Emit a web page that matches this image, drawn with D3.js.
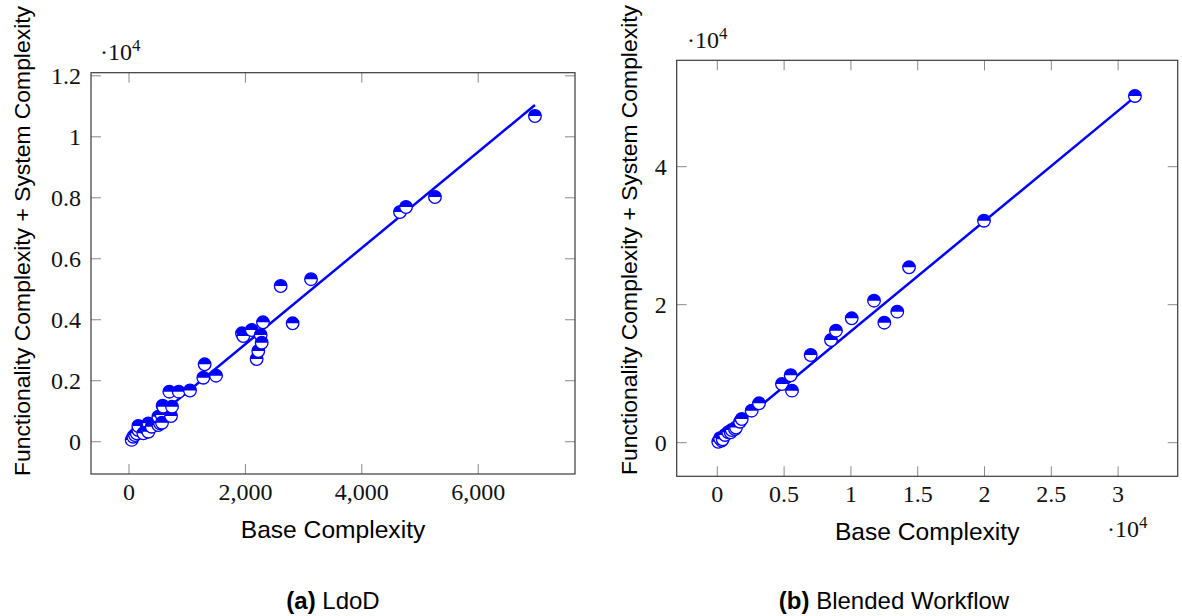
<!DOCTYPE html>
<html><head><meta charset="utf-8">
<script src="https://cdn.jsdelivr.net/npm/d3@7"></script>
<style>
html,body{margin:0;padding:0;background:#fff;}
svg{display:block;}
</style></head>
<body>
<svg id="chart" width="1182" height="616"></svg>
<script>
// ---------- data ----------
// (a) LdoD : Base Complexity vs Functionality + System Complexity
const ldodBase = [46,74,103,132,160,160,246,303,315,332,332,390,504,533,504,562,567,578,589,722,739,693,854,1048,1277,1300,1495,1941,1964,2108,2193,2221,2262,2280,2302,2606,2812,3127,4656,4759,5257,6975];
const ldodFunc = [60,164,219,275,384,515,275,440,384,603,328,492,548,603,820,876,623,1181,1148,843,1148,1640,1640,1680,2099,2539,2165,3555,3467,3664,2712,2975,3500,3247,3916,5107,3884,5330,7534,7698,8026,10683];
const ldodFitX = [46,6975];
const ldodFitY = [127,11041];
const ldodXTicks = [0,2000,4000,6000];
const ldodYTicks = [0,2000,4000,6000,8000,10000,12000];

// (b) Blended Workflow
const bwBase = [70,330,200,400,580,820,1000,1080,1320,1400,1700,1830,2570,3120,4840,5490,5590,6990,8510,8880,10060,11730,12500,13470,14350,19960,31260];
const bwFunc = [140,290,640,500,1120,1510,1500,1840,1990,2200,3040,3430,4640,5710,8510,9770,7540,12710,14880,16230,18030,20580,17390,18990,25420,32170,50250];
const bwFitX = [70,31260];
const bwFitY = [282,50123];
const bwXTicks = [0,5000,10000,15000,20000,25000,30000];
const bwYTicks = [0,20000,40000];

const captions = [{tag:"(a)", text:" LdoD"},{tag:"(b)", text:" Blended Workflow"}];
const xTitle = "Base Complexity";
const yTitle = "Functionality Complexity + System Complexity";

// ---------- drawing ----------
const svg = d3.select("#chart");
const BLUE = "#0000ff";
const SERIF = "'Liberation Serif','DejaVu Serif',serif";
const SANS = "'Liberation Sans',Arial,sans-serif";

function panel(cfg){
  const g = svg.append("g");
  const x = d3.scaleLinear().domain(cfg.xDom).range([cfg.left, cfg.right]);
  const y = d3.scaleLinear().domain(cfg.yDom).range([cfg.bottom, cfg.top]);
  const TL = 10;

  // ticks (all four sides, inward)
  const tg = g.append("g").attr("stroke","#8a8a8a").attr("stroke-width",1);
  cfg.xTicks.forEach(t=>{
    tg.append("line").attr("x1",x(t)).attr("x2",x(t)).attr("y1",cfg.bottom).attr("y2",cfg.bottom-TL);
    tg.append("line").attr("x1",x(t)).attr("x2",x(t)).attr("y1",cfg.top).attr("y2",cfg.top+TL);
  });
  cfg.yTicks.forEach(t=>{
    tg.append("line").attr("y1",y(t)).attr("y2",y(t)).attr("x1",cfg.left).attr("x2",cfg.left+TL);
    tg.append("line").attr("y1",y(t)).attr("y2",y(t)).attr("x1",cfg.right).attr("x2",cfg.right-TL);
  });

  // frame
  g.append("rect").attr("x",cfg.left).attr("y",cfg.top)
    .attr("width",cfg.right-cfg.left).attr("height",cfg.bottom-cfg.top)
    .attr("fill","none").attr("stroke","#3a3a3a").attr("stroke-width",1.2);

  // tick labels
  g.append("g").selectAll("text").data(cfg.xTicks).join("text")
    .attr("x",d=>x(d)).attr("y",cfg.bottom+26)
    .attr("text-anchor","middle").attr("font-family",SERIF).attr("font-size",24)
    .attr("fill","#111").text(cfg.xFmt);
  g.append("g").selectAll("text").data(cfg.yTicks).join("text")
    .attr("x",cfg.left-10).attr("y",d=>y(d)+8)
    .attr("text-anchor","end").attr("font-family",SERIF).attr("font-size",24)
    .attr("fill","#111").text(cfg.yFmt);

  // multipliers
  cfg.mults.forEach(m=>{
    const t = g.append("text").attr("x",m.x).attr("y",m.y)
      .attr("font-family",SERIF).attr("font-size",24).attr("fill","#111");
    t.append("tspan").text("·10");
    t.append("tspan").attr("font-size",17).attr("dy",-9).text("4");
  });

  // axis titles
  g.append("text").attr("x",(cfg.left+cfg.right)/2).attr("y",cfg.bottom+64)
    .attr("text-anchor","middle").attr("font-family",SANS).attr("font-size",24.6)
    .attr("fill","#000").text(xTitle);
  g.append("text").attr("transform",`translate(${cfg.yTitleX},${cfg.yTitleY}) rotate(-90)`)
    .attr("text-anchor","middle").attr("font-family",SANS).attr("font-size",22.9)
    .attr("fill","#000").text(yTitle);

  // regression line
  const pts = cfg.fitX.map((v,i)=>[v,cfg.fitY[i]]);
  g.append("path").datum(pts)
    .attr("d", d3.line().x(d=>x(d[0])).y(d=>y(d[1])))
    .attr("stroke",BLUE).attr("stroke-width",2.5).attr("fill","none");

  // half-filled circle markers
  const r = 6.3;
  const data = cfg.xs.map((v,i)=>[v,cfg.ys[i]]);
  const mk = g.append("g").selectAll("g").data(data).join("g")
    .attr("transform",d=>`translate(${x(d[0])},${y(d[1])})`);
  mk.append("circle").attr("r",r).attr("fill","#fff");
  mk.append("path").attr("d",`M${-r},0 A${r},${r} 0 0 1 ${r},0 Z`).attr("fill",BLUE);
  mk.append("circle").attr("r",r).attr("fill","none").attr("stroke",BLUE).attr("stroke-width",1.3);

  // caption
  const c = g.append("text").attr("x",cfg.capX).attr("y",609)
    .attr("text-anchor","middle").attr("font-family",SANS).attr("font-size",24).attr("fill","#000");
  c.append("tspan").attr("font-weight","bold").text(cfg.caption.tag);
  c.append("tspan").text(cfg.caption.text);
}

panel({
  xs: ldodBase, ys: ldodFunc, fitX: ldodFitX, fitY: ldodFitY,
  xTicks: ldodXTicks, yTicks: ldodYTicks,
  xDom: [-653, 7663], yDom: [-1059, 12103],
  left: 91, right: 575, top: 72.7, bottom: 474,
  xFmt: d3.format(","), yFmt: d=>d3.format("~g")(d/1e4),
  mults: [{x:100, y:60}],
  yTitleX: 30, yTitleY: 241,
  capX: 333,
  caption: captions[0]
});

panel({
  xs: bwBase, ys: bwFunc, fitX: bwFitX, fitY: bwFitY,
  xTicks: bwXTicks, yTicks: bwYTicks,
  xDom: [-3040, 34460], yDom: [-4870, 55420],
  left: 676.7, right: 1177.7, top: 60.3, bottom: 476.3,
  xFmt: d=>d3.format("~g")(d/1e4), yFmt: d=>d3.format("~g")(d/1e4),
  mults: [{x:687, y:48},{x:1107, y:537}],
  yTitleX: 637, yTitleY: 240,
  capX: 894,
  caption: captions[1]
});
</script>
</body></html>
